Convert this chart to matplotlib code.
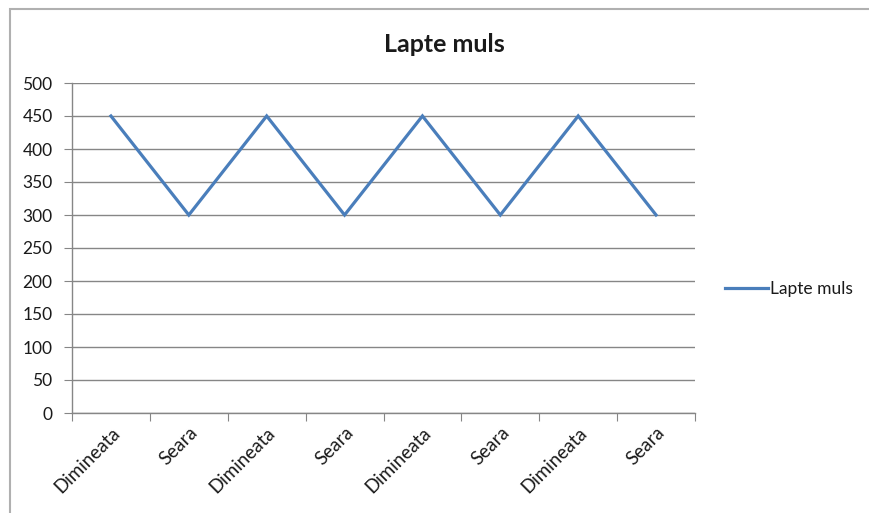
import matplotlib
matplotlib.use("Agg")
import matplotlib.pyplot as plt
from matplotlib.patches import Rectangle

categories = ["Dimineata", "Seara", "Dimineata", "Seara",
              "Dimineata", "Seara", "Dimineata", "Seara"]
milk = [450, 300, 450, 300, 450, 300, 450, 300]
series_name = "Lapte muls"
title = "Lapte muls"
y_ticks = list(range(0, 501, 50))

plt.rcParams["font.family"] = ["Lato", "DejaVu Sans"]
plt.rcParams["text.color"] = "#1a1a1a"

fig = plt.figure(figsize=(8.7, 5.13), dpi=100)
fig.patch.set_facecolor("white")

# chart frame
fig.patches.append(Rectangle((10 / 870, -0.01), 1.0, 1 - 8.5 / 513 + 0.01,
                             transform=fig.transFigure, fill=False,
                             edgecolor="#b0b0b0", linewidth=1.5))

ax = fig.add_axes([72 / 870, 1 - 413 / 513, 623 / 870, 330 / 513])
x = [i + 0.5 for i in range(len(categories))]
ax.plot(x, milk, color="#4A7EBB", linewidth=2.3, label=series_name,
        solid_joinstyle="miter")

ax.set_xlim(0, len(categories))
ax.set_ylim(0, 500)
ax.set_yticks(y_ticks)
ax.set_yticklabels([str(v) for v in y_ticks], fontsize=12.5,
                   color="#1a1a1a")
ax.yaxis.grid(True, color="#868686", linewidth=1.0)
ax.set_axisbelow(True)

ax.set_xticks(range(len(categories) + 1))
ax.set_xticklabels([])
ax.set_xticks(x, minor=True)
ax.set_xticklabels(categories, minor=True, rotation=45, ha="right",
                   rotation_mode="anchor", fontsize=13.5, color="#1a1a1a")
ax.tick_params(axis="x", which="minor", length=0, pad=8)
ax.tick_params(axis="x", which="major", length=6, color="#868686",
               direction="out")
ax.tick_params(axis="y", length=6, color="#868686", pad=8)

for side in ("top", "right"):
    ax.spines[side].set_visible(False)
for side in ("left", "bottom"):
    ax.spines[side].set_color("#868686")
    ax.spines[side].set_linewidth(1.0)

fig.text(444 / 870, 1 - 44 / 513, title, ha="center", va="center",
         fontsize=18, fontweight="bold")

fig.legend(loc="center left", bbox_to_anchor=(718 / 870, 1 - 289 / 513),
           frameon=False, fontsize=12.5, handlelength=2.5,
           handletextpad=0.1, borderaxespad=0)

fig.savefig("out.png", dpi=100, facecolor="white")
